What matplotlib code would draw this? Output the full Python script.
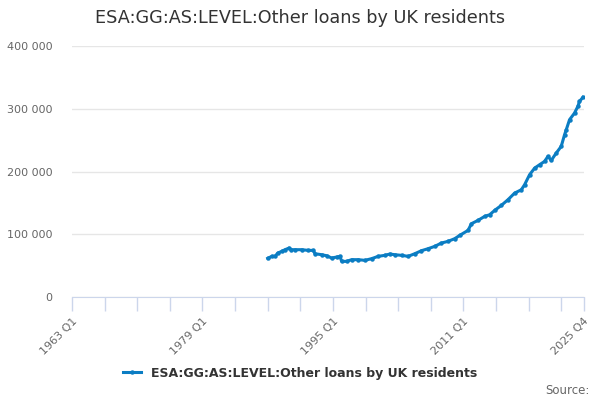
import numpy as np
import matplotlib
matplotlib.use('Agg')
import matplotlib.pyplot as plt
from matplotlib.ticker import FuncFormatter

# dates as year fractions
years = [1987.00, 1987.49, 1987.90, 1988.22, 1988.71, 1989.12, 1989.61, 1989.86,
         1990.34, 1991.16, 1991.98, 1992.59, 1992.79, 1993.61, 1994.22, 1994.83,
         1995.44, 1995.85, 1996.06, 1996.67, 1997.28, 1998.10, 1998.91, 1999.73,
         2000.54, 2001.36, 2001.97, 2002.58, 2003.40, 2004.21, 2005.03, 2005.85,
         2006.66, 2007.48, 2008.29, 2009.11, 2009.93, 2010.54, 2011.56, 2011.97,
         2012.78, 2013.60, 2014.21, 2014.82, 2015.64, 2016.45, 2017.27, 2018.09,
         2018.49, 2019.10, 2019.72, 2020.33, 2020.94, 2021.35, 2021.76, 2022.37,
         2022.98, 2023.39, 2023.60, 2024.00, 2024.61, 2025.02, 2025.22, 2025.63]
values = [61600, 64800, 64800, 70000, 72700, 75400, 78000, 75400,
          75400, 75400, 74300, 74300, 69000, 67400, 65800, 62100,
          63700, 64800, 56800, 56800, 59500, 59500, 58400, 61100,
          64800, 66400, 68500, 67400, 66400, 64800, 69000, 73800,
          77000, 80700, 86000, 88700, 93000, 98200, 106200, 116800,
          122100, 128500, 131100, 138000, 146000, 155000, 165600, 170900,
          178900, 194800, 205400, 210800, 216100, 224000, 217700, 229400,
          240000, 258600, 266600, 282500, 293100, 303700, 311600, 318100]

series_name = 'ESA:GG:AS:LEVEL:Other loans by UK residents'
tick_years = [1963 + 4 * i for i in range(16)] + [2025.75]
label_map = {1963: '1963 Q1', 1979: '1979 Q1', 1995: '1995 Q1', 2011: '2011 Q1', 2025.75: '2025 Q4'}

line_color = '#0b7dc3'
axis_color = '#ccd6eb'

fig = plt.figure(figsize=(6, 4), dpi=100)
ax = fig.add_axes([0.12, 0.2575, 0.853, 0.6275])

ax.plot(years, values, color=line_color, lw=2.2, marker='o', ms=2.2, label=series_name)

ax.set_xlim(1963, 2025.75)
ax.set_ylim(0, 400000)
ax.set_yticks([0, 100000, 200000, 300000, 400000])
ax.yaxis.set_major_formatter(FuncFormatter(lambda v, p: f'{int(v):,}'.replace(',', ' ')))
ax.grid(axis='y', color='#e6e6e6', lw=1)
ax.set_axisbelow(True)

ax.set_xticks(tick_years)
ax.set_xticklabels([label_map.get(t, '') for t in tick_years], rotation=45,
                   ha='right', rotation_mode='anchor')

for s in ['top', 'right', 'left']:
    ax.spines[s].set_visible(False)
ax.spines['bottom'].set_color(axis_color)
ax.tick_params(axis='x', colors=axis_color, length=10, width=1, labelcolor='#666666', labelsize=8)
ax.tick_params(axis='y', length=0, labelcolor='#666666', labelsize=8, pad=14)

fig.text(0.5, 0.955, series_name, ha='center', va='center', fontsize=12.7, color='#333333')

fig.legend(loc='center', bbox_to_anchor=(0.5, 0.067), frameon=False, handlelength=1.4,
           prop={'weight': 'bold', 'size': 9}, labelcolor='#333333')
fig.text(0.983, 0.025, 'Source:', ha='right', va='center', fontsize=8.5, color='#666666')

fig.savefig('out.png', dpi=100)
